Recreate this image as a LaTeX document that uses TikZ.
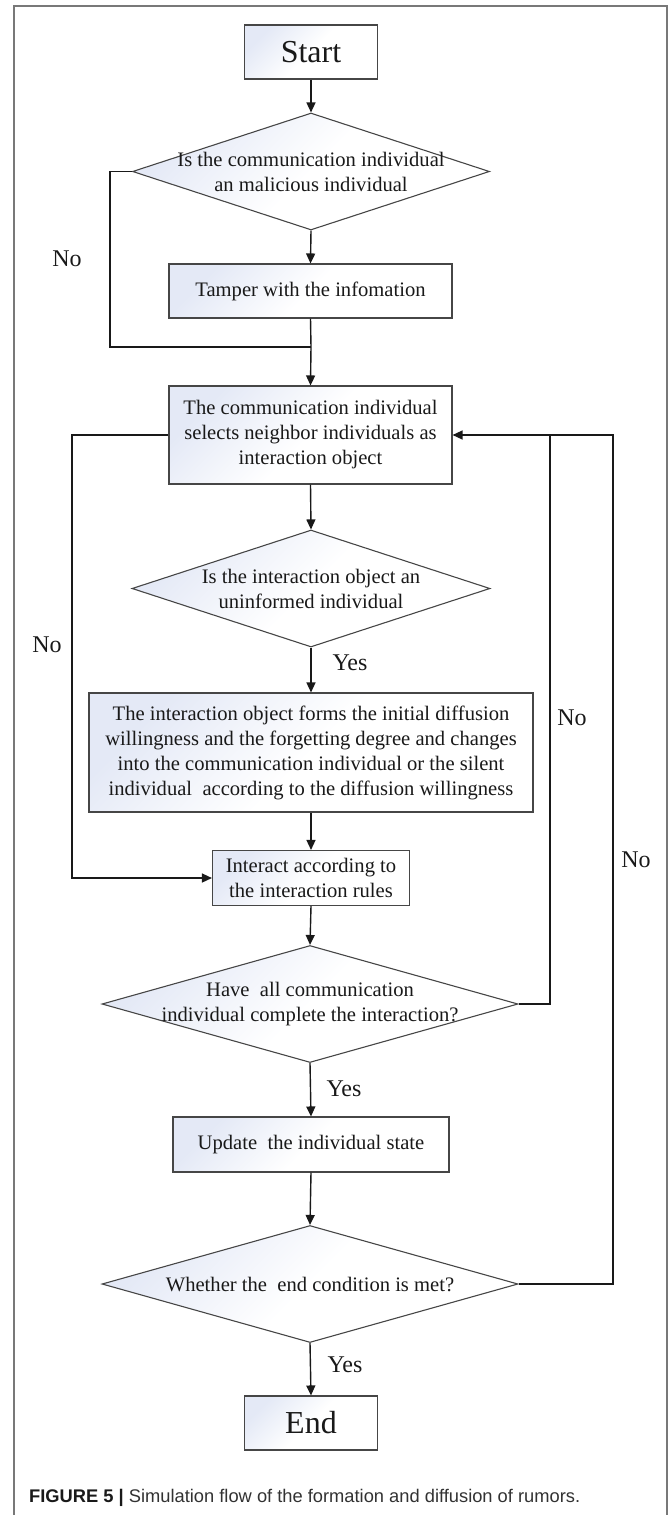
\documentclass[tikz,border=0pt]{standalone}
\usepackage{fontspec}
\setmainfont{Liberation Serif}
\setsansfont{Liberation Sans}
\usetikzlibrary{shapes.geometric,arrows.meta}
\definecolor{fillc}{RGB}{228,233,246}
\definecolor{linec}{RGB}{25,25,25}
\definecolor{borderc}{RGB}{70,70,70}
\definecolor{framec}{RGB}{120,120,120}
\definecolor{capc}{RGB}{50,50,50}
\tikzset{
  shaded/.style={top color=fillc, bottom color=white, middle color=white, shading angle=45},
  procbox/.style={draw=borderc, line width=1.1pt, shaded, inner sep=0pt, align=center,
    font=\fontsize{20.6}{25}\selectfont, text=linec},
  decbox/.style={draw=borderc, line width=1.1pt, shaded, shape=diamond, inner sep=0pt},
  dectext/.style={align=center, font=\fontsize{20.6}{25}\selectfont, text=linec, inner sep=0pt},
  bigtext/.style={font=\fontsize{32}{36}\selectfont},
  lbl/.style={font=\fontsize{24}{26}\selectfont, text=linec, inner sep=0pt},
  conn/.style={draw=linec, line width=1.4pt},
  arr/.style={conn, -{Triangle[length=10pt,width=9pt]}}
}
\begin{document}
\begin{tikzpicture}[x=1pt,y=-1pt]
\useasboundingbox (0,0) rectangle (669,1515);
% frame
\draw[framec, line width=1.3pt] (14,1516) -- (14,6) -- (667,6) -- (667,1516);

% nodes
\node[procbox, bigtext, minimum width=133pt, minimum height=54pt] (start) at (311,52) {Start};
\node[decbox, minimum width=357pt, minimum height=117pt] (d1) at (311,171.5) {};
\node[dectext] (t1) at (d1.center) {Is the communication individual\\an malicious individual};
\node[procbox, minimum width=283pt, minimum height=54pt] (tamper) at (310.5,291) {Tamper with the infomation};
\node[procbox, minimum width=283pt, minimum height=98pt] (sel) at (310.5,435) {The communication individual\\selects neighbor individuals as\\interaction object};
\node[decbox, minimum width=358pt, minimum height=117pt] (d2) at (311,588.5) {};
\node[dectext] (t2) at (d2.center) {Is the interaction object an\\uninformed individual};
\node[procbox, minimum width=444pt, minimum height=119pt] (form) at (311,752.5) {The interaction object forms the initial diffusion\\willingness and the forgetting degree and changes\\into the communication individual or the silent\\individual~ according to the diffusion willingness};
\node[procbox, minimum width=197pt, minimum height=55pt] (inter) at (311,878) {Interact according to\\the interaction rules};
\node[decbox, minimum width=416pt, minimum height=117pt] (d3) at (310,1004) {};
\node[dectext] (t3) at (d3.center) {Have~ all communication\\individual complete the interaction?};
\node[procbox, minimum width=276pt, minimum height=55pt] (upd) at (311,1144.5) {Update~ the individual state};
\node[decbox, minimum width=416pt, minimum height=117pt] (d4) at (310,1284) {};
\node[dectext] (t4) at (d4.center) {Whether the~ end condition is met?};
\node[procbox, bigtext, minimum width=133pt, minimum height=54pt] (end) at (311,1423) {End};

% labels
\node[lbl] (no1) at (67,259) {No};
\node[lbl] (no2) at (47,645) {No};
\node[lbl] (yes1) at (350,663) {Yes};
\node[lbl] (no3) at (572,718) {No};
\node[lbl] (no4) at (636,860) {No};
\node[lbl] (yes2) at (344,1089) {Yes};
\node[lbl] (yes3) at (345,1365) {Yes};

% helper coordinates
\coordinate (j1) at (311,347);
\coordinate (c1) at (110,171.5);
\coordinate (c2) at (110,347);
\coordinate (c3) at (72,435);
\coordinate (c4) at (72,878);
\coordinate (c5) at (550,1004);
\coordinate (c6) at (550,435);
\coordinate (c7) at (613,1284);
\coordinate (c8) at (613,435);

% connectors
\draw[arr] (start.south) -- (d1.north);
\draw[arr] (d1.south) -- (tamper.north);
\draw[conn] (tamper.south) -- (j1);
\draw[conn] (d1.west) -- (c1) -- (c2) -- (j1);
\draw[arr] (j1) -- (sel.north);
\draw[arr] (sel.south) -- (d2.north);
\draw[arr] (d2.south) -- (form.north);
\draw[arr] (form.south) -- (inter.north);
\draw[arr] (sel.west) -- (c3) -- (c4) -- (inter.west);
\draw[arr] (inter.south) -- (d3.north);
\draw[conn] (d3.east) -- (c5) -- (c6);
\draw[arr] (d3.south) -- (upd.north);
\draw[arr] (upd.south) -- (d4.north);
\draw[arr] (d4.east) -- (c7) -- (c8) -- (sel.east);
\draw[arr] (d4.south) -- (end.north);

% caption
\node[anchor=base west, inner sep=0pt, font=\sffamily\fontsize{18.3}{20}\selectfont, text=capc] (cap) at (29,1502)
  {\textcolor{linec}{\bfseries FIGURE 5 |} Simulation flow of the formation and diffusion of rumors.};
\end{tikzpicture}
\end{document}
